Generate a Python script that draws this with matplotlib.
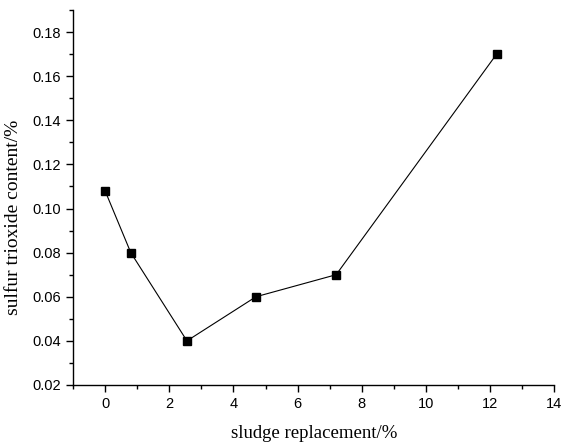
import matplotlib
matplotlib.use("Agg")
import matplotlib.pyplot as plt
from matplotlib.ticker import MultipleLocator

# sludge replacement (%) and SO3 content (%)
replacement = [0, 0.8, 2.55, 4.7, 7.2, 12.2]
so3_content = [0.108, 0.080, 0.040, 0.060, 0.070, 0.170]

fig = plt.figure(figsize=(5.63, 4.44), dpi=100)
ax = fig.add_axes([0.1297, 0.1329, 0.855, 0.8446])

ax.plot(replacement, so3_content, color="black", linewidth=0.8,
        marker="s", markersize=5.5, markerfacecolor="black", markeredgecolor="black")

ax.set_xlim(-1, 14)
ax.set_ylim(0.02, 0.19)
ax.xaxis.set_major_locator(MultipleLocator(2))
ax.xaxis.set_minor_locator(MultipleLocator(1))
ax.yaxis.set_major_locator(MultipleLocator(0.02))
ax.yaxis.set_minor_locator(MultipleLocator(0.01))
ax.yaxis.set_major_formatter(plt.FuncFormatter(lambda v, p: f"{v:.2f}"))

for side in ["top", "right"]:
    ax.spines[side].set_visible(False)
for side in ["left", "bottom"]:
    ax.spines[side].set_linewidth(1.0)

ax.tick_params(which="major", direction="out", length=5, width=1.0, labelsize=10.5)
ax.tick_params(which="minor", direction="out", length=3, width=1.0)
for lbl in ax.get_xticklabels() + ax.get_yticklabels():
    lbl.set_fontfamily("Liberation Sans")

ax.set_xlabel("sludge replacement/%", fontfamily="Liberation Serif", fontsize=13.5, labelpad=10)
ax.set_ylabel("sulfur trioxide content/%", fontfamily="Liberation Serif", fontsize=14, labelpad=6)
ax.yaxis.set_label_coords(-0.105, 0.448)

fig.savefig("out.png", dpi=100)
